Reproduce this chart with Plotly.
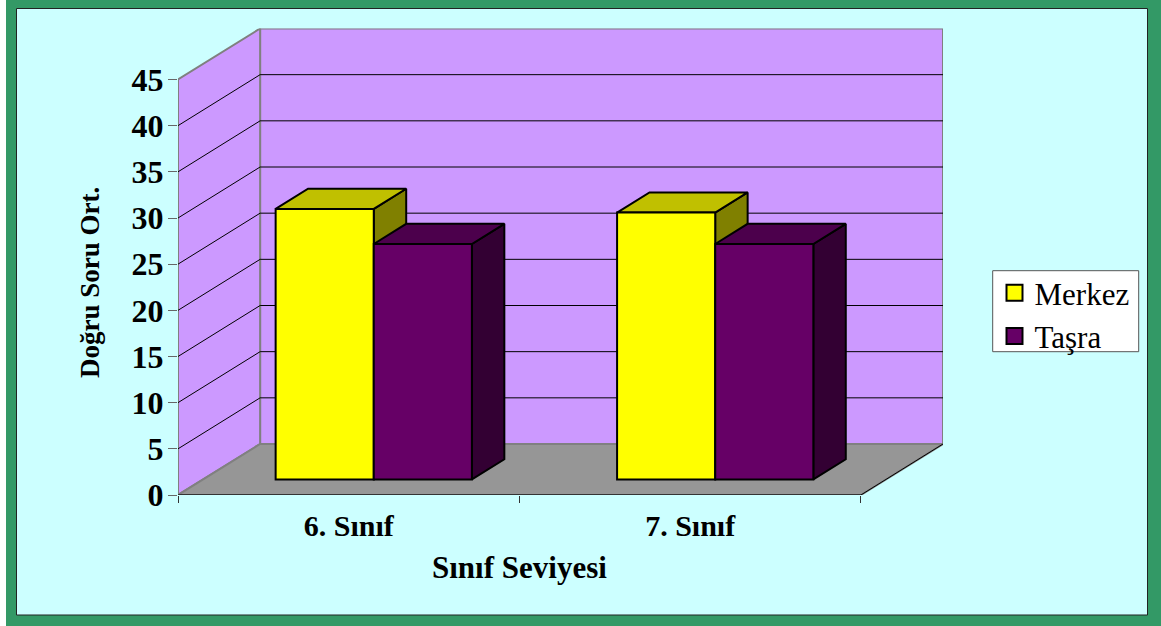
import plotly.graph_objects as go

# ---- data ----
categories = ["6. Sınıf", "7. Sınıf"]
merkez = [29.3, 28.9]
tasra = [25.5, 25.5]
y_ticks = [0, 5, 10, 15, 20, 25, 30, 35, 40, 45]
series_names = ["Merkez", "Taşra"]
x_title = "Sınıf Seviyesi"
y_title = "Doğru Soru Ort."

# ---- oblique projection (category units / value units) ----
W, H = 1161, 626
PX_L, PX_R, PX_B, PX_T = 178, 943, 495, 28.5
CAT_PX = 341.0
UNIT_PX = (PX_B - PX_T) / 50.525
DX = 82 / CAT_PX
DY = 51 / UNIT_PX
N = len(categories)
X_MAX = N + DX
Y_MAX = y_ticks[-1] + DY
D0, D1 = 0.305, 0.70
BW = 98 / CAT_PX


def P(x, v, d):
    return x + d * DX, v + d * DY


def poly(points, fill, line="black", lw=2):
    xs, ys = zip(*points)
    return go.Scatter(x=list(xs) + [xs[0]], y=list(ys) + [ys[0]], mode="lines", fill="toself",
                      fillcolor=fill, line=dict(color=line, width=lw), hoverinfo="skip", showlegend=False)


def seg(a, b, color="black", lw=1):
    return go.Scatter(x=[a[0], b[0]], y=[a[1], b[1]], mode="lines", line=dict(color=color, width=lw),
                      hoverinfo="skip", showlegend=False)


fig = go.Figure()
WALL, FLOOR, EDGE = "#CC99FF", "#969696", "#808080"
top = y_ticks[-1]
# walls and floor
fig.add_trace(poly([P(0, 0, 1), P(N, 0, 1), P(N, top, 1), P(0, top, 1)], WALL, EDGE, 2))
fig.add_trace(poly([P(0, 0, 0), P(0, 0, 1), P(0, top, 1), P(0, top, 0)], WALL, EDGE, 2))
fig.add_trace(poly([P(0, 0, 0), P(N, 0, 0), P(N, 0, 1), P(0, 0, 1)], FLOOR, EDGE, 2))
for t in y_ticks[1:-1]:
    fig.add_trace(seg(P(0, t, 0), P(0, t, 1)))
    fig.add_trace(seg(P(0, t, 1), P(N, t, 1)))
fig.add_trace(seg(P(0, 0, 0), P(N, 0, 0), "#333333", 2))
fig.add_trace(seg(P(N, 0, 0), P(N, 0, 1), "black", 1))

# bar side and top faces, painted back to front
styles = [("#FFFF00", "#C0C000", "#808000"), ("#660066", "#4C004C", "#330033")]
for i in range(N):
    c = i + 0.5
    for k, vals in enumerate((merkez, tasra)):
        x0 = c - BW + k * BW
        x1 = x0 + BW
        v = vals[i]
        _, t_col, s_col = styles[k]
        fig.add_trace(poly([P(x1, 0, D0), P(x1, 0, D1), P(x1, v, D1), P(x1, v, D0)], s_col))
        fig.add_trace(poly([P(x0, v, D0), P(x1, v, D0), P(x1, v, D1), P(x0, v, D1)], t_col))

# front faces: real bars on an overlaid pair of axes so they sit above the faces
for k, (name, vals) in enumerate(zip(series_names, (merkez, tasra))):
    fig.add_trace(go.Bar(x=[P(i + 0.5, 0, D0)[0] for i in range(N)], y=vals,
                         base=[P(0, 0, D0)[1]] * N, width=BW, offset=(k - 1) * BW,
                         marker=dict(color=styles[k][0], line=dict(color="black", width=2)),
                         xaxis="x2", yaxis="y2", showlegend=False, name=name))
    # legend key
    fig.add_trace(go.Scatter(x=[None], y=[None], mode="markers", name=name,
                             marker=dict(symbol="square", size=16, color=styles[k][0],
                                         line=dict(color="black", width=2))))

FONT = "Liberation Serif"
dom_x = [PX_L / W, PX_R / W]
dom_y = [1 - PX_B / H, 1 - PX_T / H]
fig.update_layout(
    width=W, height=H, margin=dict(l=0, r=0, t=0, b=0, autoexpand=False),
    paper_bgcolor="white", plot_bgcolor="rgba(0,0,0,0)", barmode="overlay",
    font=dict(family=FONT, color="black"),
    xaxis=dict(domain=dom_x, range=[0, X_MAX], showgrid=False, zeroline=False, showline=False,
               tickmode="array", tickvals=[i + 0.5 for i in range(N)], ticktext=categories,
               ticks="outside", ticklen=4, tickcolor="rgba(0,0,0,0)",
               tickfont=dict(family=FONT, size=30, color="black", weight="bold"),
               minor=dict(tickmode="array", tickvals=list(range(N + 1)), ticks="outside",
                          ticklen=7, tickcolor="#333333", tickwidth=1, showgrid=False)),
    yaxis=dict(domain=dom_y, range=[0, Y_MAX], showgrid=False, zeroline=False, showline=False,
               tickmode="array", tickvals=y_ticks, ticks="outside", ticklen=9, tickcolor="#666666",
               tickwidth=1, ticklabelstandoff=-2,
               tickfont=dict(family=FONT, size=32, color="black", weight="bold")),
    xaxis2=dict(overlaying="x", matches="x", visible=False),
    yaxis2=dict(overlaying="y", matches="y", visible=False),
    legend=dict(x=994.5 / W, y=1 - 266 / H, xanchor="left", yanchor="top", bgcolor="rgba(0,0,0,0)",
                borderwidth=0, font=dict(family=FONT, size=31, color="black"),
                itemclick=False, itemdoubleclick=False),
    shapes=[
        dict(type="rect", xref="paper", yref="paper", x0=6 / W, x1=1, y0=0, y1=1,
             fillcolor="#339966", line_width=0, layer="below"),
        dict(type="rect", xref="paper", yref="paper", x0=16.5 / W, x1=1147.5 / W, y0=1 - 615 / H, y1=1 - 8.5 / H,
             fillcolor="#CCFFFF", line=dict(color="#222222", width=1), layer="below"),
        dict(type="rect", xref="paper", yref="paper", x0=992.7 / W, x1=1138.7 / W, y0=1 - 351.7 / H, y1=1 - 270.7 / H,
             fillcolor="white", line=dict(color="#555555", width=1), layer="below"),
    ],
    annotations=[
        dict(text=f"<b>{x_title}</b>", xref="x", x=1, xanchor="center", yref="paper", y=1 - 567 / H,
             yanchor="middle", showarrow=False, font=dict(family=FONT, size=31, color="black")),
        dict(text=f"<b>{y_title}</b>", xref="paper", x=90 / W, xanchor="center", yref="paper", y=1 - 283 / H,
             yanchor="middle", showarrow=False, textangle=-90, font=dict(family=FONT, size=27, color="black")),
    ],
)
fig.write_html("out.html", config={"displayModeBar": False}, post_script="document.body.style.margin=0;")
